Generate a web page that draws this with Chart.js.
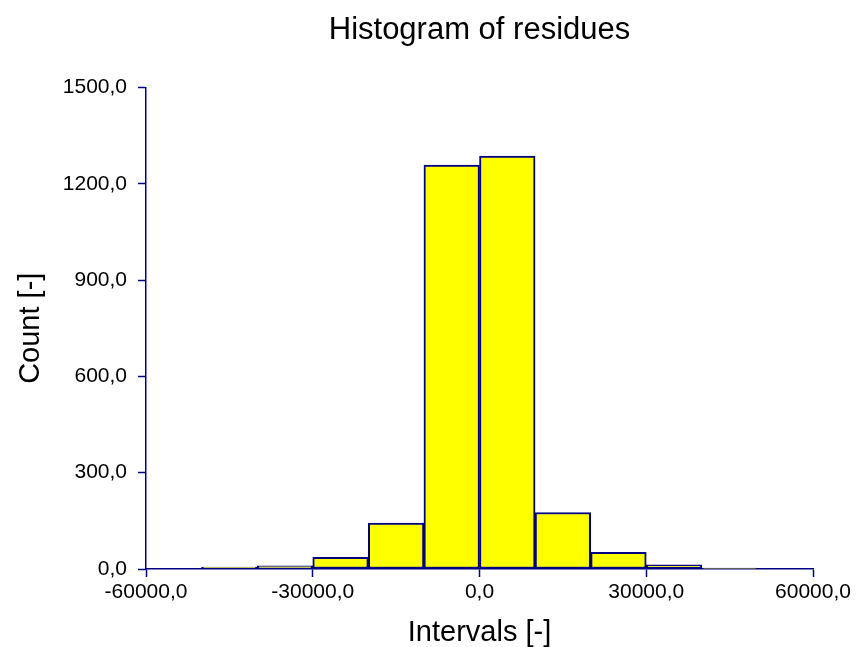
<!DOCTYPE html>
<html>
<head>
<meta charset="utf-8">
<title>Histogram of residues</title>
<script src="https://cdn.jsdelivr.net/npm/chart.js@4/dist/chart.umd.min.js"></script>
<style>
  html, body { margin: 0; padding: 0; background: #ffffff; }
  #wrap { width: 856px; height: 647px; }
</style>
</head>
<body>
<div id="wrap"><canvas id="hist" width="856" height="647"></canvas></div>
<script>
// Histogram bins: lower/upper edges of each interval and the residue count in it
const binEdges = [-50000, -40000, -30000, -20000, -10000, 0, 10000, 20000, 30000, 40000, 50000];
const counts   = [6, 10, 36, 143, 1258, 1286, 176, 52, 13, 3];

// Axis ranges and tick positions
const xTicks = [-60000, -30000, 0, 30000, 60000];
const yTicks = [0, 300, 600, 900, 1200, 1500];

const NAVY = '#000080';
const FONT = "'Liberation Sans', Arial, sans-serif";

// One point per bin, placed at the bin centre
const points = counts.map((c, i) => ({ x: (binEdges[i] + binEdges[i + 1]) / 2, y: c }));

const fmt = v => Number(v).toFixed(1).replace('.', ',');

new Chart(document.getElementById('hist'), {
  type: 'bar',
  data: {
    datasets: [{
      data: points,
      backgroundColor: '#ffff00',
      borderColor: NAVY,
      borderWidth: 2,
      borderSkipped: false,
      barPercentage: 1,
      categoryPercentage: 1,
      grouped: false
    }]
  },
  options: {
    responsive: false,
    animation: false,
    devicePixelRatio: 1,
    layout: { padding: { left: 0, right: 43, top: 0, bottom: 0 } },
    plugins: {
      legend: { display: false },
      tooltip: { enabled: false },
      title: {
        display: true,
        text: 'Histogram of residues',
        fullSize: false,
        color: '#000000',
        font: { family: FONT, size: 31, weight: 'normal', lineHeight: 1 },
        padding: { top: 15, bottom: 41.5 }
      }
    },
    scales: {
      x: {
        type: 'linear',
        offset: false,
        min: xTicks[0],
        max: xTicks[xTicks.length - 1],
        afterBuildTicks: s => { s.ticks = xTicks.map(v => ({ value: v })); },
        afterFit: s => { s.height = 78; s.paddingLeft = 0; s.paddingRight = 0; },
        grid: { display: true, offset: false, drawOnChartArea: false, drawTicks: true, tickLength: 8, tickColor: NAVY, tickWidth: 1.5 },
        border: { display: true, color: NAVY, width: 1.5 },
        ticks: {
          color: '#000000',
          padding: 3,
          maxRotation: 0,
          autoSkip: false,
          font: { family: FONT, size: 21 },
          callback: v => fmt(v)
        },
        title: {
          display: true,
          text: 'Intervals [-]',
          color: '#000000',
          font: { family: FONT, size: 29, lineHeight: 1 },
          padding: { top: 0, bottom: 0 }
        }
      },
      y: {
        type: 'linear',
        min: yTicks[0],
        max: yTicks[yTicks.length - 1],
        afterBuildTicks: s => { s.ticks = yTicks.map(v => ({ value: v })); },
        afterFit: s => { s.width = 146; s.paddingTop = 0; s.paddingBottom = 0; },
        grid: { display: true, drawOnChartArea: false, drawTicks: true, tickLength: 8, tickColor: NAVY, tickWidth: 1.5 },
        border: { display: true, color: NAVY, width: 1.5 },
        ticks: {
          color: '#000000',
          padding: 11,
          autoSkip: false,
          font: { family: FONT, size: 21 },
          callback: v => fmt(v)
        },
        title: {
          display: true,
          text: 'Count [-]',
          color: '#000000',
          font: { family: FONT, size: 29, lineHeight: 1 },
          padding: { top: 16, bottom: 0 }
        }
      }
    }
  }
});
</script>
</body>
</html>
